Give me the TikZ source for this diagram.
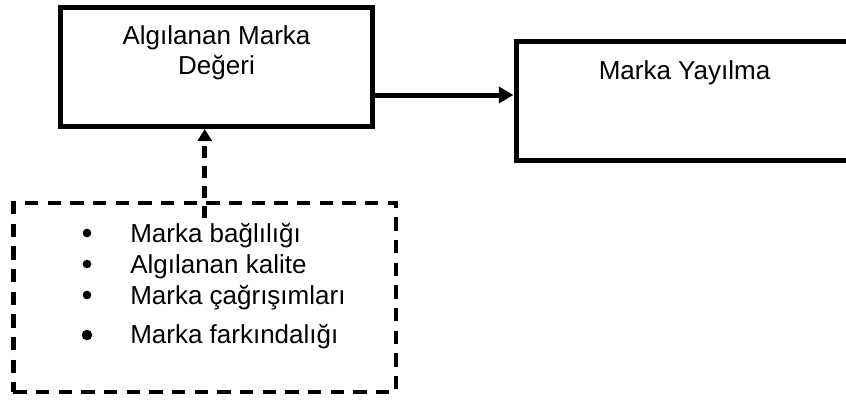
\documentclass[tikz,border=0pt]{standalone}
\usepackage{fontspec}
\setmainfont{Liberation Sans}
\usetikzlibrary{arrows.meta}

\tikzset{
  box/.style={draw=black,line width=3.75pt,rectangle,inner sep=0pt},
  dbox/.style={draw=black,line width=3.4pt,rectangle,inner sep=0pt,dash pattern=on 10pt off 7pt},
  txt/.style={font=\fontsize{19.5}{22.5}\selectfont,inner sep=0pt},
  dot/.style={circle,fill=black,inner sep=0pt,minimum size=6.5pt}
}

\begin{document}
\begin{tikzpicture}[x=0.75pt,y=-0.75pt]
  \useasboundingbox (0,0) rectangle (846,401);
  % boxes
  \node [box,minimum width=234pt,minimum height=89.25pt] (algi) at (216.5,67) {};
  \node [box,minimum width=252.75pt,minimum height=89.25pt] (yay) at (684.5,101) {};
  \node [dbox,minimum width=286.9pt,minimum height=141.75pt] (liste) at (204.75,297.5) {};
  % box texts
  \node [txt,align=center,anchor=base] (algitxt) at (216.5,74) {Algılanan Marka\\Değeri};
  \node [txt,anchor=base] (yaytxt) at (684.5,79) {Marka Yayılma};
  % list
  \node [dot] (b1) at (87,233) {};
  \node [dot] (b2) at (87,264) {};
  \node [dot] (b3) at (87,295) {};
  \node [dot,minimum size=8pt] (b4) at (87,335) {};
  \node [txt,anchor=base west] (m1) at (130,242) {Marka bağlılığı};
  \node [txt,anchor=base west] (m2) at (130,273) {Algılanan kalite};
  \node [txt,anchor=base west] (m3) at (130,304) {Marka çağrışımları};
  \node [txt,anchor=base west] (m4) at (130,343) {Marka farkındalığı};
  % arrows
  \draw [line width=3.75pt,-{Triangle[length=11pt,width=12pt]}] (algi.east |- 0,95) -- (yay.west |- 0,95);
  \draw [line width=3.4pt,dash pattern=on 9pt off 6pt,-{Triangle[length=9pt,width=10.5pt]}]
    ([yshift=-12.75pt]liste.north) -- (liste.north |- algi.south);
\end{tikzpicture}
\end{document}
